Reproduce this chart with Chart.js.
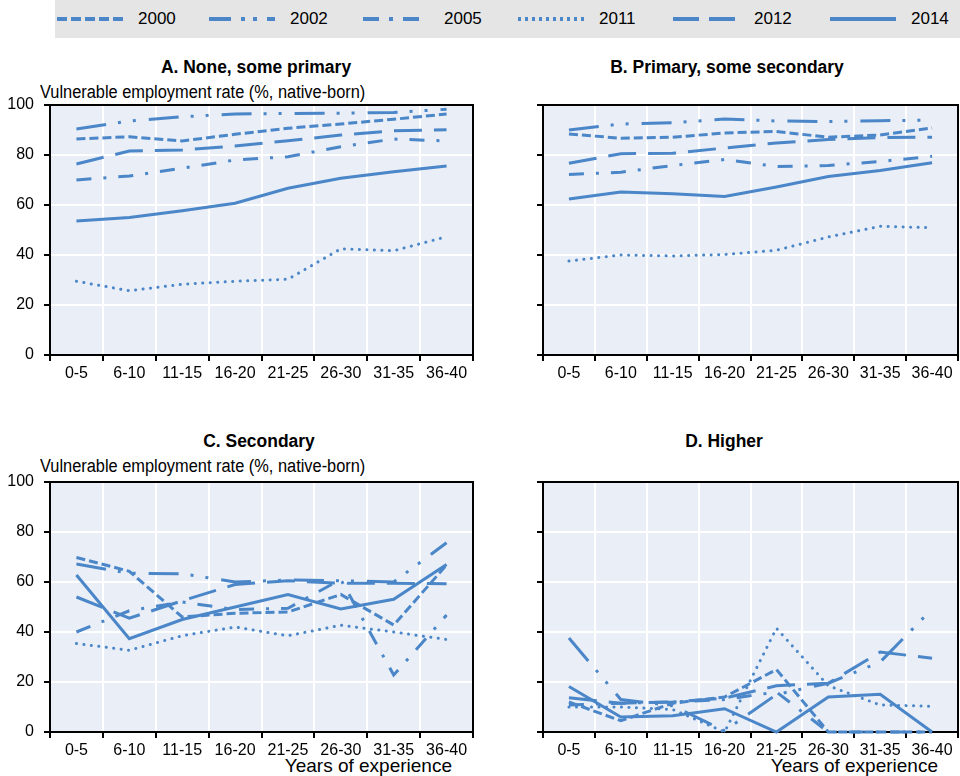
<!DOCTYPE html>
<html>
<head>
<meta charset="utf-8">
<script src="https://cdn.jsdelivr.net/npm/chart.js@4.4.0/dist/chart.umd.min.js"></script>
<style>
  body { margin: 0; width: 960px; height: 776px; position: relative; background: #fff; overflow: hidden;
         font-family: 'Liberation Sans Narrow', 'Arial Narrow', 'Liberation Sans', sans-serif; color: #000; }
  .legend { position: absolute; left: 55px; top: 0; width: 905px; height: 38px; background: #e5e5e5; }
  .item { position: absolute; top: 0; height: 38px; display: flex; align-items: center; font-size: 17px; }
  .item svg { margin-right: 15px; }
  .title { position: absolute; font-weight: bold; font-size: 18px; line-height: 20px; transform: translateX(-50%) scaleX(0.97); white-space: nowrap; }
  .cap { position: absolute; font-size: 18px; line-height: 20px; white-space: nowrap; transform-origin: 0 50%; transform: scaleX(0.91); }
  .capR { position: absolute; font-size: 19px; line-height: 20px; white-space: nowrap; transform: translateX(-100%); }
  canvas { position: absolute; }
</style>
</head>
<body>
<div class="legend" id="legend"></div>

<div class="title" style="left:256px; top:57px;">A. None, some primary</div>
<div class="title" style="left:727px; top:57px;">B. Primary, some secondary</div>
<div class="title" style="left:259px; top:431px;">C. Secondary</div>
<div class="title" style="left:724px; top:431px;">D. Higher</div>

<div class="cap" style="left:40px; top:82px;">Vulnerable employment rate (%, native-born)</div>
<div class="cap" style="left:40px; top:456px;">Vulnerable employment rate (%, native-born)</div>
<div class="capR" style="left:452px; top:756px;">Years of experience</div>
<div class="capR" style="left:938px; top:756px;">Years of experience</div>

<canvas id="cA" width="480" height="360" style="left:0; top:40px;"></canvas>
<canvas id="cB" width="480" height="360" style="left:480px; top:40px;"></canvas>
<canvas id="cC" width="480" height="376" style="left:0; top:400px;"></canvas>
<canvas id="cD" width="480" height="376" style="left:480px; top:400px;"></canvas>

<script>
// Years of experience (x categories) and survey years (series)
const categories = ['0-5', '6-10', '11-15', '16-20', '21-25', '26-30', '31-35', '36-40'];
const years = ['2000', '2002', '2005', '2011', '2012', '2014'];
const yTicks = [0, 20, 40, 60, 80, 100];

// A. None, some primary
const a2000 = [86.4, 87.3, 85.6, 88.3, 90.7, 92.4, 94.3, 96.4];
const a2002 = [90.4, 93.6, 95.3, 96.4, 96.6, 96.7, 97.0, 98.3];
const a2005 = [70.0, 71.6, 74.7, 78.0, 79.3, 83.3, 86.4, 85.6];
const a2011 = [29.5, 25.7, 28.3, 29.5, 30.3, 42.5, 41.7, 47.3];
const a2012 = [76.4, 81.6, 82.0, 83.6, 85.7, 88.0, 89.7, 90.1];
const a2014 = [53.6, 55.0, 57.7, 60.7, 66.7, 70.7, 73.3, 75.6];

// B. Primary, some secondary
const b2000 = [88.4, 86.7, 87.1, 88.8, 89.4, 87.1, 88.0, 90.8];
const b2002 = [90.0, 92.4, 92.9, 94.4, 93.6, 93.4, 93.7, 94.0];
const b2005 = [72.2, 73.1, 75.8, 78.2, 75.4, 75.8, 77.4, 79.5];
const b2011 = [37.6, 40.0, 39.6, 40.2, 41.9, 47.2, 51.5, 50.9];
const b2012 = [76.7, 80.5, 80.7, 82.8, 84.8, 86.2, 87.0, 87.1];
const b2014 = [62.4, 65.2, 64.5, 63.4, 67.2, 71.4, 73.8, 76.9];

// C. Secondary
const c2000 = [69.8, 64.3, 46.0, 47.5, 48.0, 55.0, 42.8, 66.8];
const c2002 = [67.2, 63.5, 63.3, 60.0, 60.8, 60.5, 60.0, 75.7];
const c2005 = [40.0, 48.5, 52.0, 49.0, 49.5, 61.0, 22.8, 46.8];
const c2011 = [35.4, 32.7, 38.5, 42.0, 38.5, 42.7, 40.0, 37.0];
const c2012 = [54.0, 45.5, 52.5, 59.0, 60.5, 59.5, 59.5, 59.3];
const c2014 = [62.8, 37.3, 45.0, 50.0, 55.0, 49.2, 53.1, 67.0];

// D. Higher
const d2000 = [12.0, 4.5, 11.5, 14.0, 25.0, 0.0, 0.0, 0.0];
const d2002 = [37.6, 13.0, 10.5, 0.5, 15.0, 19.5, 28.0, 49.2];
const d2005 = [10.8, 11.5, 12.0, 13.0, 16.0, 0.0, 0.0, 0.0];
const d2011 = [10.0, 10.0, 9.0, 0.0, 41.5, 18.5, 10.8, 10.3];
const d2012 = [13.7, 11.5, 12.0, 13.5, 18.5, 19.5, 32.0, 29.5];
const d2014 = [18.2, 6.0, 6.5, 9.3, 0.0, 14.0, 15.1, 0.0];

// Look of each series
const LINE = '#4a86c8';
const dashes = {
  '2000': { dash: [9, 4], cap: 'butt' },
  '2002': { dash: [30, 12, 3, 12, 3, 13], cap: 'butt' },
  '2005': { dash: [15, 12, 3, 12], cap: 'butt' },
  '2011': { dash: [0.1, 7.4], cap: 'round' },
  '2012': { dash: [28, 12], cap: 'butt' },
  '2014': { dash: [], cap: 'butt' }
};

// Legend strip
const legendEl = document.getElementById('legend');
const legendLeft = [2, 154, 308, 463, 618, 775];
const legendDash = {
  '2000': '10 4', '2002': '22 10 4 8 4 10', '2005': '16 10 4 10',
  '2011': '3 4', '2012': '26 10', '2014': 'none'
};
years.forEach((y, i) => {
  const it = document.createElement('div');
  it.className = 'item';
  it.style.left = legendLeft[i] + 'px';
  it.innerHTML = '<svg width="66" height="8"><line x1="0" y1="4" x2="66" y2="4" stroke="' + LINE +
    '" stroke-width="4" stroke-dasharray="' + legendDash[y] + '"/></svg><span>' + y + '</span>';
  legendEl.appendChild(it);
});

const FONT = "'Liberation Sans Narrow', 'Arial Narrow', 'Liberation Sans', sans-serif";

// Plot background and black frame round the plotting area
const framePlugin = {
  id: 'frame',
  beforeDraw(chart) {
    const { ctx, chartArea: a } = chart;
    ctx.save();
    ctx.fillStyle = '#e9eef7';
    ctx.fillRect(a.left, a.top, a.right - a.left, a.bottom - a.top);
    ctx.restore();
  },
  beforeDatasetsDraw(chart) {
    const { ctx, chartArea: a } = chart;
    ctx.save();
    ctx.strokeStyle = '#000';
    ctx.lineWidth = 2;
    ctx.strokeRect(a.left, a.top, a.right - a.left, a.bottom - a.top);
    ctx.restore();
  }
};

function makeChart(id, series, opts) {
  const datasets = years.map((y, i) => ({
    label: y,
    data: series[i],
    borderColor: LINE,
    borderWidth: 3,
    borderDash: dashes[y].dash,
    borderCapStyle: dashes[y].cap,
    pointRadius: 0,
    tension: 0,
    fill: false,
    clip: false
  }));
  return new Chart(document.getElementById(id), {
    type: 'line',
    data: { labels: categories, datasets },
    plugins: [framePlugin],
    options: {
      responsive: false,
      animation: false,
      devicePixelRatio: 1,
      layout: { padding: opts.padding },
      plugins: { legend: { display: false }, title: { display: false }, tooltip: { enabled: false } },
      scales: {
        x: {
          type: 'category',
          offset: true,
          border: { display: false },
          grid: { offset: true, color: '#fff', lineWidth: 2, tickColor: '#000', tickWidth: 2, tickLength: 6 },
          ticks: { color: '#000', font: { family: FONT, size: 16 }, padding: 3, autoSkip: false, maxRotation: 0, minRotation: 0 },
          afterFit(s) { s.height = 30; }
        },
        y: {
          min: 0, max: 100,
          border: { display: false },
          grid: { color: '#fff', lineWidth: 2, tickColor: '#000', tickWidth: 2, tickLength: 6 },
          ticks: {
            display: opts.showY, stepSize: 20, color: '#000', padding: 10,
            font: { family: FONT, size: 16 },
            callback: (v) => yTicks.includes(v) ? String(v) : ''
          },
          afterFit(s) { s.width = opts.yWidth; }
        }
      }
    }
  });
}

// plot areas: A/B 105..355 on the page, C/D 482..732
makeChart('cA', [a2000, a2002, a2005, a2011, a2012, a2014],
  { showY: true, yWidth: 50, padding: { left: 0, right: 7, top: 65, bottom: 15 } });
makeChart('cB', [b2000, b2002, b2005, b2011, b2012, b2014],
  { showY: false, yWidth: 63, padding: { left: 0, right: 2, top: 65, bottom: 15 } });
makeChart('cC', [c2000, c2002, c2005, c2011, c2012, c2014],
  { showY: true, yWidth: 50, padding: { left: 0, right: 7, top: 82, bottom: 14 } });
makeChart('cD', [d2000, d2002, d2005, d2011, d2012, d2014],
  { showY: false, yWidth: 63, padding: { left: 0, right: 2, top: 82, bottom: 14 } });
</script>
</body>
</html>
